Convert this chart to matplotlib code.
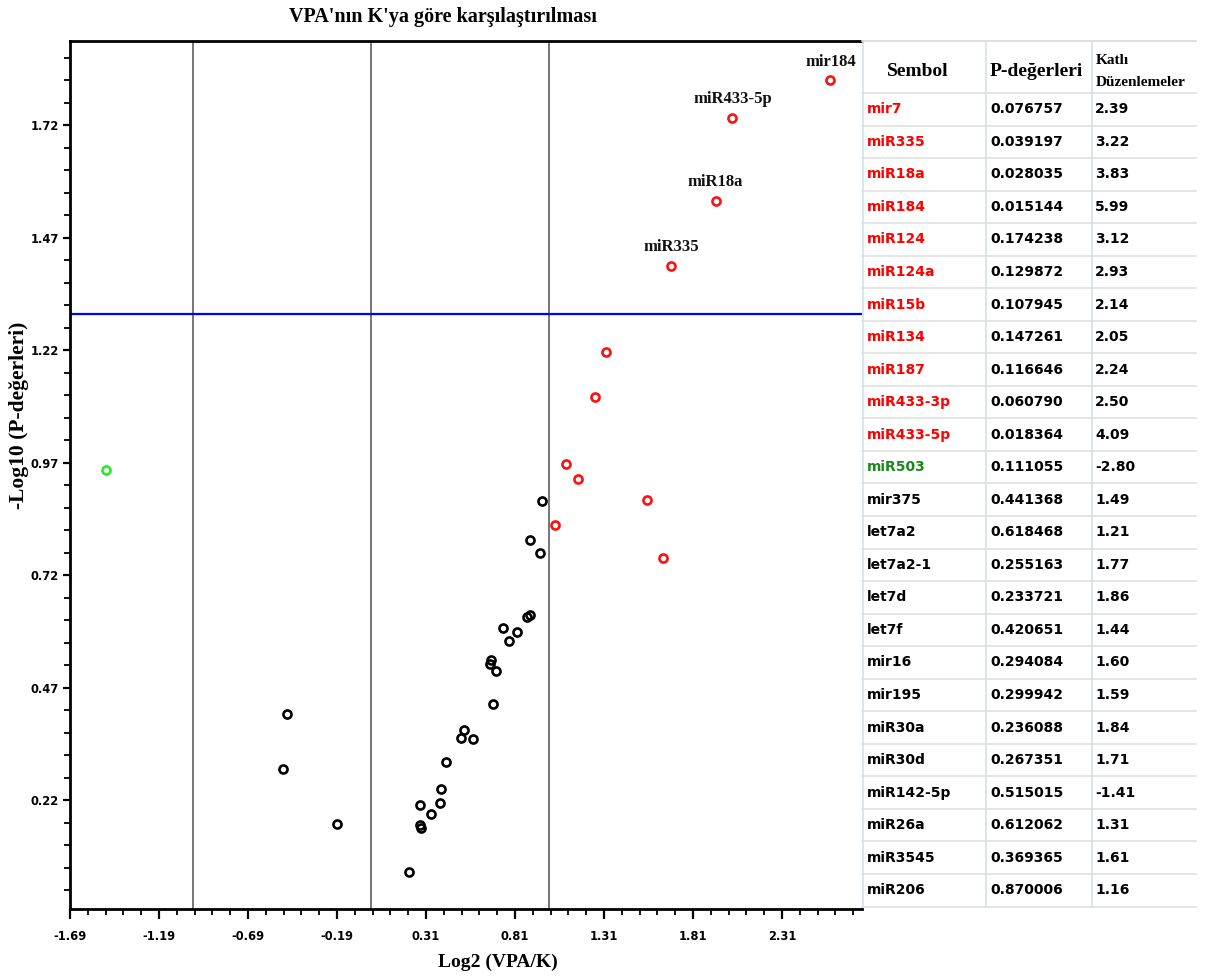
import numpy as np
import matplotlib
matplotlib.use('Agg')
import matplotlib.pyplot as plt
from matplotlib.ticker import FixedLocator

# ---------------- data ----------------
symbols = ["mir7", "miR335", "miR18a", "miR184", "miR124", "miR124a", "miR15b",
           "miR134", "miR187", "miR433-3p", "miR433-5p", "miR503", "mir375",
           "let7a2", "let7a2-1", "let7d", "let7f", "mir16", "mir195", "miR30a",
           "miR30d", "miR142-5p", "miR26a", "miR3545", "miR206"]
p_values = [0.076757, 0.039197, 0.028035, 0.015144, 0.174238, 0.129872, 0.107945,
            0.147261, 0.116646, 0.060790, 0.018364, 0.111055, 0.441368,
            0.618468, 0.255163, 0.233721, 0.420651, 0.294084, 0.299942, 0.236088,
            0.267351, 0.515015, 0.612062, 0.369365, 0.870006]
fold_changes = [2.39, 3.22, 3.83, 5.99, 3.12, 2.93, 2.14,
                2.05, 2.24, 2.50, 4.09, -2.80, 1.49,
                1.21, 1.77, 1.86, 1.44, 1.60, 1.59, 1.84,
                1.71, -1.41, 1.31, 1.61, 1.16]
groups = ["up"] * 11 + ["down"] + ["ns"] * 13

# other (unlisted) miRNAs
extra_log2fc = [0.962, 0.896, 0.949, 0.743, 0.705, 0.505, 0.422, 0.394,
                0.338, 0.276, 0.282, -0.469, -0.188]
extra_neglogp = [0.884, 0.799, 0.769, 0.603, 0.507, 0.359, 0.305, 0.245,
                 0.190, 0.164, 0.159, 0.411, 0.166]

annot_symbols = ["miR184", "miR433-5p", "miR18a", "miR335"]
annot_texts = ["mir184", "miR433-5p", "miR18a", "miR335"]

xtick_values = [-1.69, -1.19, -0.69, -0.19, 0.31, 0.81, 1.31, 1.81, 2.31]
ytick_values = [0.22, 0.47, 0.72, 0.97, 1.22, 1.47, 1.72]
vline_values = [-1, 0, 1]
p_threshold = 0.05

title = "VPA'nın K'ya göre karşılaştırılması"
xlabel = "Log2 (VPA/K)"
ylabel = "-Log10 (P-değerleri)"
table_headers = ["Sembol", "P-değerleri", "Katlı\nDüzenlemeler"]

# ---------------- styling ----------------
group_marker_colors = {"up": "#ff1010", "down": "#22ee22", "ns": "#000000"}
group_text_colors = {"up": "#ff0000", "down": "#1a8a1a", "ns": "#000000"}
SERIF = "Liberation Serif"
SANS = "DejaVu Sans"

W, H = 1216, 976
fig = plt.figure(figsize=(W / 100, H / 100), dpi=100)
ax = fig.add_axes([70 / W, 1 - 909 / H, 792 / W, 868 / H])

fc = np.array(fold_changes)
pv = np.array(p_values)
lx = np.sign(fc) * np.log2(np.abs(fc))
ly = -np.log10(pv)
g = np.array(groups)

mk = dict(marker="o", linestyle="none", markersize=5.8, markeredgewidth=1.9,
          markerfacecolor="none")
ax.plot(extra_log2fc, extra_neglogp, markeredgecolor="#000000", **mk)
for grp in ["ns", "up", "down"]:
    m = g == grp
    ax.plot(lx[m], ly[m], markeredgecolor=group_marker_colors[grp], **mk)

for v in vline_values:
    ax.axvline(v, color="#5e5e5e", lw=1.2, zorder=0)
ax.axhline(-np.log10(p_threshold), color="#0000ff", lw=1.6, zorder=1)

for s, t in zip(annot_symbols, annot_texts):
    i = symbols.index(s)
    ax.annotate(t, (lx[i], ly[i]), xytext=(0, 13.5), textcoords="offset points",
                ha="center", va="center", fontfamily=SERIF, fontweight="bold",
                fontsize=12, color="#111111")

ax.set_xlim(-1.69, 2.76)
ax.set_ylim(-0.022, 1.907)
ax.xaxis.set_major_locator(FixedLocator(xtick_values))
ax.yaxis.set_major_locator(FixedLocator(ytick_values))
ax.xaxis.set_minor_locator(FixedLocator(np.arange(-1.69, 2.77, 0.1)))
ax.yaxis.set_minor_locator(FixedLocator(np.arange(ytick_values[0] - 0.2, 1.91, 0.05)))
ax.set_xticklabels([f"{v:.2f}" for v in xtick_values])
ax.set_yticklabels([f"{v:.2f}" for v in ytick_values])
ax.tick_params(axis="x", which="major", direction="out", length=7, width=1.6,
               labelsize=8.3, pad=8)
ax.tick_params(axis="x", which="minor", direction="out", length=4, width=1.3)
ax.tick_params(axis="y", which="major", direction="out", length=5, width=1.6,
               labelsize=8.3, pad=3)
ax.tick_params(axis="y", which="minor", direction="out", length=4, width=1.3)
for lbl in ax.get_xticklabels() + ax.get_yticklabels():
    lbl.set_fontweight("bold")
    lbl.set_fontfamily(SANS)
for side in ["left", "bottom", "top"]:
    ax.spines[side].set_linewidth(2.0)
ax.spines["right"].set_visible(False)

fig.text(443 / W, 1 - 17 / H, title, ha="center", va="center", fontfamily=SERIF,
         fontweight="bold", fontsize=14.5)
fig.text(498 / W, 1 - 962 / H, xlabel, ha="center", va="center", fontfamily=SERIF,
         fontweight="bold", fontsize=14)
fig.text(19 / W, 1 - 415 / H, ylabel, ha="center", va="center", rotation=90,
         fontfamily=SERIF, fontweight="bold", fontsize=15.5)

# ---------------- table ----------------
tax = fig.add_axes([0, 0, 1, 1])
tax.set_xlim(0, W)
tax.set_ylim(H, 0)
tax.axis("off")

col_x = [863, 986, 1092]
tab_right = 1196
tab_top = 41
head_bottom = 93
row_h = 32.54
n = len(symbols)
tab_bottom = head_bottom + n * row_h

tax.plot([862, tab_right], [tab_top, tab_top], color="#d8d8d8", lw=1.2)
for k in range(n + 1):
    yy = head_bottom + k * row_h
    tax.plot([862, tab_right], [yy, yy], color="#e0e0e0", lw=1.2)
for cx in col_x:
    tax.plot([cx, cx], [tab_top, tab_bottom], color="#d6e0e6", lw=1.2)

tax.text(918, 71, table_headers[0], ha="center", va="center", fontfamily=SERIF,
         fontweight="bold", fontsize=14)
tax.text(990, 71, table_headers[1], ha="left", va="center", fontfamily=SERIF,
         fontweight="bold", fontsize=14)
h3a, h3b = table_headers[2].split("\n")
tax.text(1096, 61, h3a, ha="left", va="center", fontfamily=SERIF,
         fontweight="bold", fontsize=11)
tax.text(1096, 83, h3b, ha="left", va="center", fontfamily=SERIF,
         fontweight="bold", fontsize=11)

for k in range(n):
    yc = head_bottom + (k + 0.5) * row_h
    tax.text(867, yc, symbols[k], ha="left", va="center", fontfamily=SANS,
             fontweight="bold", fontsize=10, color=group_text_colors[groups[k]])
    tax.text(990, yc, f"{p_values[k]:.6f}", ha="left", va="center",
             fontfamily=SANS, fontweight="bold", fontsize=10)
    tax.text(1095, yc, f"{fold_changes[k]:.2f}", ha="left", va="center",
             fontfamily=SANS, fontweight="bold", fontsize=10)

fig.savefig("out.png", dpi=100)
